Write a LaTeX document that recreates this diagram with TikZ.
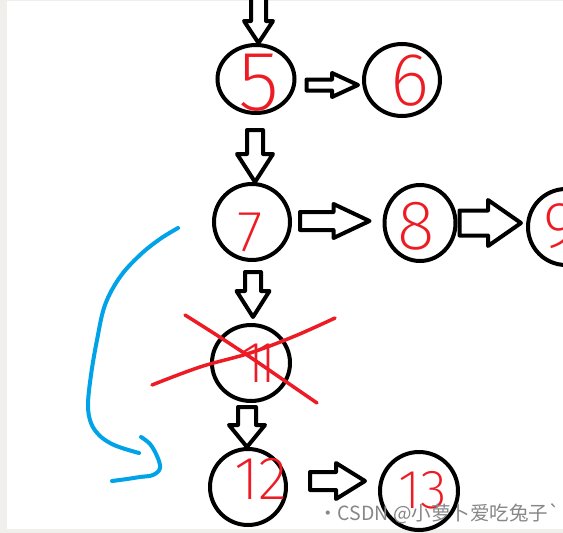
\documentclass[tikz,border=0pt]{standalone}
\usepackage{fontspec}
\newfontfamily\cjkfont{Noto Sans CJK SC}
\IfFontExistsTF{Fira Sans ExtraLight}{\newfontfamily\digitfont{Fira Sans ExtraLight}}{\newfontfamily\digitfont{Fira Sans}}
\usetikzlibrary{calc,shapes.geometric}
\definecolor{paintred}{RGB}{237,28,36}
\definecolor{paintblue}{RGB}{0,162,232}
\definecolor{edgegray}{RGB}{240,239,235}
\definecolor{markgray}{RGB}{135,135,135}
\tikzset{
  ring/.style={ellipse, draw=black, line width=4pt, inner sep=0pt},
  digit/.style={text=paintred, inner sep=0pt, font=\digitfont\fontsize{#1}{#1}\selectfont},
  blockarr/.style={draw=black, line width=4pt, fill=white, line join=round},
  crossline/.style={draw=paintred, line width=3.5pt, line cap=round, line join=round},
  bluestroke/.style={draw=paintblue, line width=4pt, line cap=round, line join=round},
}
% start, end, shaft half width, head half width, head length
\newcommand{\hblockarrow}[5]{%
  \draw[blockarr] let \p1=#1, \p2=#2 in
   (\x1,\y1+#3) -- (\x2-#5,\y1+#3) -- (\x2-#5,\y1+#4) -- (\x2,\y1)
   -- (\x2-#5,\y1-#4) -- (\x2-#5,\y1-#3) -- (\x1,\y1-#3) -- cycle;}
\newcommand{\vblockarrow}[5]{%
  \draw[blockarr] let \p1=#1, \p2=#2 in
   (\x1-#3,\y1) -- (\x1-#3,\y2+#5) -- (\x1-#4,\y2+#5) -- (\x1,\y2)
   -- (\x1+#4,\y2+#5) -- (\x1+#3,\y2+#5) -- (\x1+#3,\y1) -- cycle;}
\begin{document}
\begin{tikzpicture}[x=1pt,y=-1pt]
\useasboundingbox (0,0) rectangle (563,533);
\fill[white] (0,0) rectangle (563,533);
\fill[edgegray] (0,0) rectangle (7,533);
\fill[edgegray] (0,0) rectangle (563,1.2);
\fill[edgegray] (0,529) rectangle (563,533);
\begin{scope}
\clip (0,0) rectangle (563,533);
% rings
\node[ring, minimum width=77pt, minimum height=68pt] (n5) at (256,79) {};
\node[ring, minimum width=76pt, minimum height=72pt] (n6) at (402,80) {};
\node[ring, minimum width=76pt, minimum height=76pt] (n7) at (252,222) {};
\node[ring, minimum width=71pt, minimum height=76pt] (n8) at (420,223) {};
\node[ring, minimum width=76pt, minimum height=76pt] (n9) at (566,227) {};
\node[ring, minimum width=78pt, minimum height=76pt] (n11) at (251,363) {};
\node[ring, minimum width=76pt, minimum height=76pt] (n12) at (248,487) {};
\node[ring, minimum width=78pt, minimum height=78pt] (n13) at (419,491) {};
% digits
\node[digit=85] (d5) at (259,83) {5};
\node[digit=75] (d6) at (410,81) {6};
\node[digit=58] (d7) at (250,232) {7};
\node[digit=70] (d8) at (416,226) {8};
\node[digit=65] (d9) at (560,226) {9};
\node[digit=58] (d11) at (259,363) {1\kern-0.2em1};
\node[digit=61] (d12) at (261,479) {12};
\node[digit=55] (d13) at (423,490) {13};
% block arrows
\coordinate (in5) at (258.5,-5);
\vblockarrow{(in5)}{(n5.north)}{7.5pt}{14.5pt}{22pt}
\vblockarrow{($(n5.south)+(-1,15)$)}{(n7.north)}{8pt}{18pt}{28pt}
\vblockarrow{($(n7.south)+(1,10)$)}{($(n11.north)+(0,-6)$)}{8pt}{16.5pt}{26pt}
\vblockarrow{($(n11.south)+(-4,4)$)}{(n12.north)}{9pt}{18pt}{22pt}
\hblockarrow{($(n5.east)+(10,6)$)}{($(n6.west)+(-4,0)$)}{5.5pt}{12pt}{26pt}
\hblockarrow{($(n7.east)+(8,-1)$)}{($(n8.west)+(-13,0)$)}{9pt}{17pt}{36pt}
\hblockarrow{($(n8.east)+(2,0)$)}{($(n9.west)+(-5,0)$)}{12.5pt}{23pt}{33pt}
\hblockarrow{($(n12.east)+(22,-6)$)}{($(n13.west)+(-13,0)$)}{9pt}{18pt}{29pt}
% red cross over 11
\draw[crossline] plot[smooth, tension=0.6] coordinates {(185,315) (215,334) (250,357) (285,381) (317,403)};
\draw[crossline] plot[smooth, tension=0.6] coordinates {(152,385) (200,367) (250,353) (295,336) (335,318)};
% blue hand-drawn arrow
\draw[bluestroke] plot[smooth, tension=0.6] coordinates {(178,228) (160,239) (140,255) (120,277) (105,305) (97,340) (91,375) (88,405) (91,423) (99,435) (110,443) (122,448) (139,453)};
\draw[bluestroke] plot[smooth, tension=0.6] coordinates {(141,437) (150,444) (157,456) (160,468) (153,475) (140,477) (127,479) (112,481)};
% watermark
\node[anchor=base west, inner sep=0pt, text=markgray, font=\cjkfont\fontsize{19.5}{19.5}\selectfont] (mark) at (318,520) {·CSDN @小萝卜爱吃兔子`};
\end{scope}
\end{tikzpicture}
\end{document}
